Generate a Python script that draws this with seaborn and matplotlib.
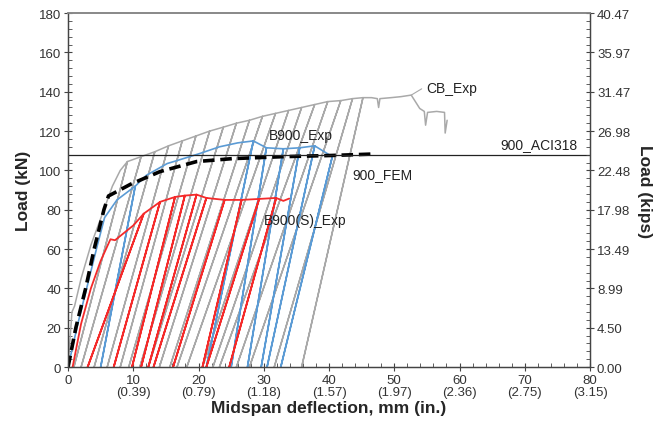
import numpy as np
import pandas as pd
import matplotlib
matplotlib.use('Agg')
import matplotlib.pyplot as plt
from matplotlib.ticker import MultipleLocator
import seaborn as sns

# ---- data (deflection mm, load kN) ----
# CB_Exp (grey, cyclic)
cb_pre_d = [0.0, 0.6, 1.0, 2.0, 3.5, 5.5, 6.8, 8.0]
cb_pre_p = [0.0, 28.0, 31.0, 45.0, 62.0, 80.0, 92.0, 100.0]
cb_peak_d = [9.1, 11.2, 13.3, 15.4, 17.5, 19.6, 21.7, 23.8, 25.8, 27.8,
             29.8, 31.8, 33.8, 35.8, 37.8, 39.8, 41.8, 43.6, 45.2]
cb_peak_p = [104.5, 107.0, 109.5, 112.5, 115.0, 117.5, 120.0, 122.0, 124.0, 125.5,
             127.5, 129.0, 130.5, 132.0, 133.5, 135.0, 135.5, 136.5, 137.0]
cb_resid = [0.9, 2.0, 4.0, 6.0, 8.0, 9.3, 11.0, 12.3, 14.0, 15.6,
            16.7, 18.2, 20.6, 22.2, 23.2, 25.8, 27.8, 31.6, 35.8]
cb_post_d = [46.5, 47.4, 47.6, 47.8, 49.5, 51.0, 52.6, 53.9, 54.6, 54.8, 55.1, 56.5, 57.7, 57.8, 58.1]
cb_post_p = [137.0, 136.5, 132.0, 136.5, 137.0, 137.5, 138.3, 131.5, 130.0, 123.0, 129.5, 130.0, 129.5, 119.0, 125.5]

# B900_Exp (blue, cyclic)
b9_pre_d = [0.0, 1.5, 3.0, 4.5, 5.6, 7.5]
b9_pre_p = [0.0, 22.0, 42.0, 62.0, 76.0, 85.0]
b9_peak_d = [10.3, 28.4, 30.4, 33.0, 35.5, 37.8, 40.5]
b9_peak_p = [92.0, 115.0, 111.5, 111.0, 111.5, 112.5, 107.0]
b9_resid = [5.0, 21.2, 25.0, 27.5, 29.6, 30.5, 32.6]
b9_mid_d = [12.0, 15.2, 16.7, 20.2, 23.2, 26.0]
b9_mid_p = [97.5, 103.5, 105.0, 108.6, 112.0, 114.0]
b9_post_d = []
b9_post_p = []

# B900(S)_Exp (red, cyclic)
bs_pre_d = [0.7, 2.0, 3.5, 5.0, 6.5, 7.2, 8.5, 10.0]
bs_pre_p = [0.0, 22.0, 40.0, 54.0, 65.0, 64.5, 68.0, 72.0]
bs_peak_d = [11.6, 14.1, 16.4, 17.9, 19.7, 21.2, 24.0, 26.6, 29.3, 31.9]
bs_peak_p = [78.0, 84.0, 86.5, 87.2, 87.7, 86.0, 85.0, 85.0, 85.5, 86.0]
bs_resid = [3.0, 7.0, 9.8, 11.2, 12.3, 13.1, 16.1, 20.6, 21.2, 24.7]
bs_post_d = [33.0, 33.9]
bs_post_p = [84.5, 85.7]

# 900_FEM (black dashed)
fem_d = [0.0, 1.2, 2.7, 4.0, 5.5, 6.2, 9.6, 14.1, 19.7, 25.2, 33.0, 40.4, 46.5]
fem_p = [0.0, 20.0, 40.0, 60.0, 80.0, 87.0, 93.0, 99.4, 104.5, 106.0, 107.0, 107.6, 108.3]

# 900_ACI318 (horizontal line)
aci_load = 108.0

x_ticks = [0, 10, 20, 30, 40, 50, 60, 70, 80]
x_tick_labels = ['0', '10\n(0.39)', '20\n(0.79)', '30\n(1.18)', '40\n(1.57)',
                 '50\n(1.97)', '60\n(2.36)', '70\n(2.75)', '80\n(3.15)']
y_ticks = [0, 20, 40, 60, 80, 100, 120, 140, 160, 180]
kip_labels = ['0.00', '4.50', '8.99', '13.49', '17.98', '22.48', '26.98', '31.47', '35.97', '40.47']


def cyclic_path(pre_d, pre_p, peak_d, peak_p, resid, post_d, post_p, mid=None):
    # walk the load history: envelope -> unload to residual -> reload to peak
    d = list(pre_d)
    p = list(pre_p)
    for i, (dd, pp, r) in enumerate(zip(peak_d, peak_p, resid)):
        d += [dd, r, dd]
        p += [pp, 0.0, pp]
        if mid is not None and i == 0:
            d += mid[0]
            p += mid[1]
    d += list(post_d)
    p += list(post_p)
    return pd.DataFrame({'defl': d, 'load': p})


sns.set_style('ticks')
plt.rcParams['font.family'] = ['Liberation Sans', 'DejaVu Sans']

fig = plt.figure(figsize=(6.67, 4.27), dpi=100)
ax = fig.add_axes([0.102, 0.138, 0.7826, 0.829])

grey = '#a9a9a9'
blue = '#5b9bd5'
red = '#f42a2a'

cb = cyclic_path(cb_pre_d, cb_pre_p, cb_peak_d, cb_peak_p, cb_resid, cb_post_d, cb_post_p)
b9 = cyclic_path(b9_pre_d, b9_pre_p, b9_peak_d, b9_peak_p, b9_resid, b9_post_d, b9_post_p,
                 mid=(b9_mid_d, b9_mid_p))
bs = cyclic_path(bs_pre_d, bs_pre_p, bs_peak_d, bs_peak_p, bs_resid, bs_post_d, bs_post_p)

sns.lineplot(data=cb, x='defl', y='load', sort=False, estimator=None, color=grey, lw=1.1, ax=ax)
sns.lineplot(data=b9, x='defl', y='load', sort=False, estimator=None, color=blue, lw=1.2, ax=ax)
sns.lineplot(data=bs, x='defl', y='load', sort=False, estimator=None, color=red, lw=1.3, ax=ax)
sns.lineplot(x=fem_d, y=fem_p, sort=False, estimator=None, color='black', lw=2.6,
             dashes=False, ax=ax).lines[-1].set_dashes((3.2, 1.6))
ax.axhline(aci_load, color='#222222', lw=0.9)

# leader from CB_Exp label
ax.plot([52.6, 54.2], [138.3, 141.5], color=grey, lw=0.8)

txt = dict(fontsize=10, color='#222222', va='center', ha='left')
ax.text(54.9, 142.0, 'CB_Exp', **txt)
ax.text(30.8, 117.8, 'B900_Exp', **txt)
ax.text(66.2, 113.6, '900_ACI318', **txt)
ax.text(43.6, 98.2, '900_FEM', **txt)
ax.text(30.0, 75.0, 'B900(S)_Exp', **txt)

ax.set_xlim(0, 80)
ax.set_ylim(0, 180)
ax.set_xticks(x_ticks)
ax.set_xticklabels(x_tick_labels, fontsize=9.5, color='#333333', linespacing=0.95)
ax.set_yticks(y_ticks)
ax.set_yticklabels([str(v) for v in y_ticks], fontsize=9.5, color='#333333')
ax.xaxis.set_minor_locator(MultipleLocator(2))
ax.yaxis.set_minor_locator(MultipleLocator(4))
ax.tick_params(which='major', direction='inout', length=6, width=0.8, color='#444444', pad=2)
ax.tick_params(which='minor', direction='in', length=3, width=0.6, color='#444444')
ax.set_xlabel('Midspan deflection, mm (in.)', fontsize=12.5, fontweight='bold', labelpad=2)
ax.set_ylabel('Load (kN)', fontsize=12.5, fontweight='bold', labelpad=6)

ax2 = ax.twinx()
ax2.set_ylim(0, 180)
ax2.set_yticks(y_ticks)
ax2.set_yticklabels(kip_labels, fontsize=9.5, color='#333333')
ax2.yaxis.set_minor_locator(MultipleLocator(4))
ax2.tick_params(which='major', direction='inout', length=6, width=0.8, color='#444444', pad=2)
ax2.tick_params(which='minor', direction='in', length=3, width=0.6, color='#444444')
ax2.set_ylabel('Load (kips)', fontsize=12.5, fontweight='bold', rotation=-90, labelpad=16)

for a in (ax, ax2):
    for side in ['left', 'right', 'bottom']:
        a.spines[side].set_color('#444444')
        a.spines[side].set_linewidth(0.9)
    a.spines['top'].set_visible(True)
    a.spines['top'].set_color('#888888')
    a.spines['top'].set_linewidth(1.2)

fig.savefig('out.png', dpi=100)
